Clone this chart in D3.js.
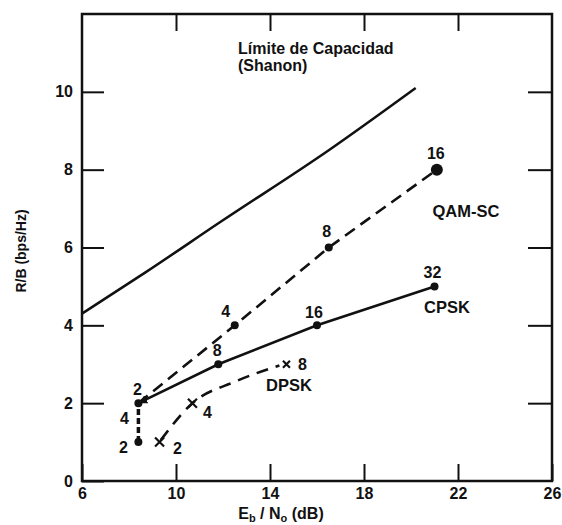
<!DOCTYPE html>
<html>
<head>
<meta charset="utf-8">
<script src="https://cdn.jsdelivr.net/npm/d3@7"></script>
<style>
  html, body { margin: 0; padding: 0; background: #fff; }
  svg { display: block; }
  text { font-family: "Liberation Sans", Arial, Helvetica, sans-serif; fill: #111; }
</style>
</head>
<body>
<svg id="chart" width="562" height="525"></svg>
<script>
// ---- Data ----
const xTicks = [6, 10, 14, 18, 22, 26];
const yTicks = [0, 2, 4, 6, 8, 10];
const shannonX = [6, 8.7, 11.9, 16.5, 20.2];
const shannonY = [4.3, 5.36, 6.66, 8.5, 10.1];
const qamX = [8.4, 12.5, 16.5, 21.1];
const qamY = [2, 4, 6, 8];
const qamLabels = ["2", "4", "8", "16"];
const cpskX = [8.4, 11.8, 16, 21];
const cpskY = [2, 3, 4, 5];
const cpskLabels = ["", "8", "16", "32"];
const bpskX = [8.4, 8.4];
const bpskY = [1, 2];
const bpskLabels = ["2", "4"];
const dpskX = [9.3, 10.7, 14.7];
const dpskY = [1, 2, 3];
const dpskLabels = ["2", "4", "8"];
const dpskCurveX = [9.35, 10.7, 12.5, 14.4];
const dpskCurveY = [1.05, 2, 2.55, 2.97];
const titleLines = ["Límite de Capacidad", "(Shanon)"];

// ---- Layout ----
const svg = d3.select("#chart");
const L = 82, R = 552, T = 14, B = 481;
const x = d3.scaleLinear().domain([6, 26]).range([L, R]);
const y = d3.scaleLinear().domain([0, 12]).range([B, T]);
const zip = (a, b) => a.map((v, i) => [v, b[i]]);
const line = d3.line().x(d => x(d[0])).y(d => y(d[1]));
const smooth = d3.line().x(d => x(d[0])).y(d => y(d[1])).curve(d3.curveMonotoneX);

// arrow marker
svg.append("defs").append("marker")
  .attr("id", "arr").attr("viewBox", "0 0 10 10").attr("refX", 10).attr("refY", 5)
  .attr("markerWidth", 3.4).attr("markerHeight", 3.4).attr("orient", "auto-start-reverse")
  .attr("markerUnits", "strokeWidth")
  .append("path").attr("d", "M0,0 L10,5 L0,10 z").attr("fill", "#111");

// axes (ticks inside)
const fontTick = g => g.selectAll("text").style("font-size", "16px").style("font-weight", "bold")
  .style("font-family", '"Liberation Sans", Arial, sans-serif').attr("fill", "#111");
const styleAxis = g => { g.select(".domain").remove(); g.selectAll("line").attr("stroke", "#111").attr("stroke-width", 2); };

svg.append("g").attr("transform", `translate(0,${B})`)
  .call(d3.axisBottom(x).tickValues(xTicks).tickSize(-17).tickPadding(7).tickFormat(d3.format("d")))
  .call(styleAxis).call(fontTick);
svg.append("g").attr("transform", `translate(0,${T})`)
  .call(d3.axisTop(x).tickValues(xTicks.slice(1, -1)).tickSize(-17).tickFormat(""))
  .call(styleAxis);
svg.append("g").attr("transform", `translate(${L},0)`)
  .call(d3.axisLeft(y).tickValues(yTicks).tickSize(-22).tickPadding(9).tickFormat(d3.format("d")))
  .call(styleAxis).call(fontTick);
svg.append("g").attr("transform", `translate(${R},0)`)
  .call(d3.axisRight(y).tickValues(yTicks.slice(1)).tickSize(-24).tickFormat(""))
  .call(styleAxis);

// frame
svg.append("rect").attr("x", L).attr("y", T).attr("width", R - L).attr("height", B - T)
  .attr("fill", "none").attr("stroke", "#111").attr("stroke-width", 2.5);

// Shannon limit
svg.append("path").attr("d", smooth(zip(shannonX, shannonY)))
  .attr("fill", "none").attr("stroke", "#111").attr("stroke-width", 2.5);

// QAM-SC dashed
svg.append("path").attr("d", line(zip(qamX, qamY)))
  .attr("fill", "none").attr("stroke", "#111").attr("stroke-width", 2.6).attr("stroke-dasharray", "12,7");

// CPSK solid
svg.append("path").attr("d", line(zip(cpskX, cpskY)))
  .attr("fill", "none").attr("stroke", "#111").attr("stroke-width", 2.6)
  .attr("marker-start", "url(#arr)");

// vertical short-dash segment
svg.append("path").attr("d", line(zip(bpskX, bpskY)))
  .attr("fill", "none").attr("stroke", "#111").attr("stroke-width", 3.5).attr("stroke-dasharray", "6,3");

// DPSK dashed curve
svg.append("path").attr("d", smooth(zip(dpskCurveX, dpskCurveY)))
  .attr("fill", "none").attr("stroke", "#111").attr("stroke-width", 2.6).attr("stroke-dasharray", "12,8");

// dots
const dots = zip(qamX, qamY).map((d, i) => ({ p: d, r: i === qamX.length - 1 ? 6 : 4 }))
  .concat(zip(cpskX, cpskY).slice(1).map(d => ({ p: d, r: 4 })))
  .concat([{ p: [bpskX[0], bpskY[0]], r: 4 }]);
svg.append("g").selectAll("circle").data(dots).join("circle")
  .attr("cx", d => x(d.p[0])).attr("cy", d => y(d.p[1])).attr("r", d => d.r).attr("fill", "#111");

// DPSK x marks
const xm = zip(dpskX, dpskY);
const xs = [4.5, 4.5, 3.5];
svg.append("g").selectAll("path").data(xm).join("path")
  .attr("d", (d, i) => { const cx = x(d[0]), cy = y(d[1]), s = xs[i];
    return `M${cx - s},${cy - s}L${cx + s},${cy + s}M${cx - s},${cy + s}L${cx + s},${cy - s}`; })
  .attr("stroke", "#111").attr("stroke-width", 2.2).attr("fill", "none");

// point labels
const lab = (px, py, t, dx, dy) => svg.append("text").attr("x", x(px) + dx).attr("y", y(py) + dy)
  .attr("text-anchor", "middle").attr("dy", "0.36em")
  .style("font-size", "16px").style("font-weight", "bold").text(t);
const qamOff = [[-1, -14], [-9, -14], [-2, -16], [-1, -16]];
qamLabels.forEach((t, i) => lab(qamX[i], qamY[i], t, qamOff[i][0], qamOff[i][1]));
const cpskOff = [[0, 0], [-1, -14], [-3, -13], [-2, -14]];
cpskLabels.forEach((t, i) => { if (t) lab(cpskX[i], cpskY[i], t, cpskOff[i][0], cpskOff[i][1]); });
lab(bpskX[0], bpskY[0], bpskLabels[0], -15, 5);
lab(bpskX[0], (bpskY[0] + bpskY[1]) / 2, bpskLabels[1], -14, -4);
const dpskOff = [[18, 6], [15, 9], [16, 0]];
dpskLabels.forEach((t, i) => lab(dpskX[i], dpskY[i], t, dpskOff[i][0], dpskOff[i][1]));

// series labels
const sLab = (t, px, py) => svg.append("text").attr("x", px).attr("y", py).attr("text-anchor", "middle")
  .attr("dy", "0.36em").style("font-size", "16.5px").style("font-weight", "bold").text(t);
sLab("QAM-SC", 466, 211);
sLab("CPSK", 447, 307);
sLab("DPSK", 289, 385);

// title
svg.append("text").attr("x", 238).attr("y", 54).style("font-size", "16px").style("font-weight", "bold")
  .selectAll("tspan").data(titleLines).join("tspan")
  .attr("x", 238).attr("dy", (d, i) => i ? 17 : 0).text(d => d);

// axis titles
const xt = svg.append("text").attr("x", 281).attr("y", 519).attr("text-anchor", "middle")
  .style("font-size", "16px").style("font-weight", "bold");
xt.append("tspan").text("E");
xt.append("tspan").attr("dy", 3).style("font-size", "11px").text("b");
xt.append("tspan").attr("dy", -3).text(" / N");
xt.append("tspan").attr("dy", 3).style("font-size", "11px").text("o");
xt.append("tspan").attr("dy", -3).text(" (dB)");

svg.append("text").attr("transform", "translate(26,251) rotate(-90)").attr("text-anchor", "middle")
  .style("font-size", "14px").style("font-weight", "bold").text("R/B (bps/Hz)");
</script>
</body>
</html>
